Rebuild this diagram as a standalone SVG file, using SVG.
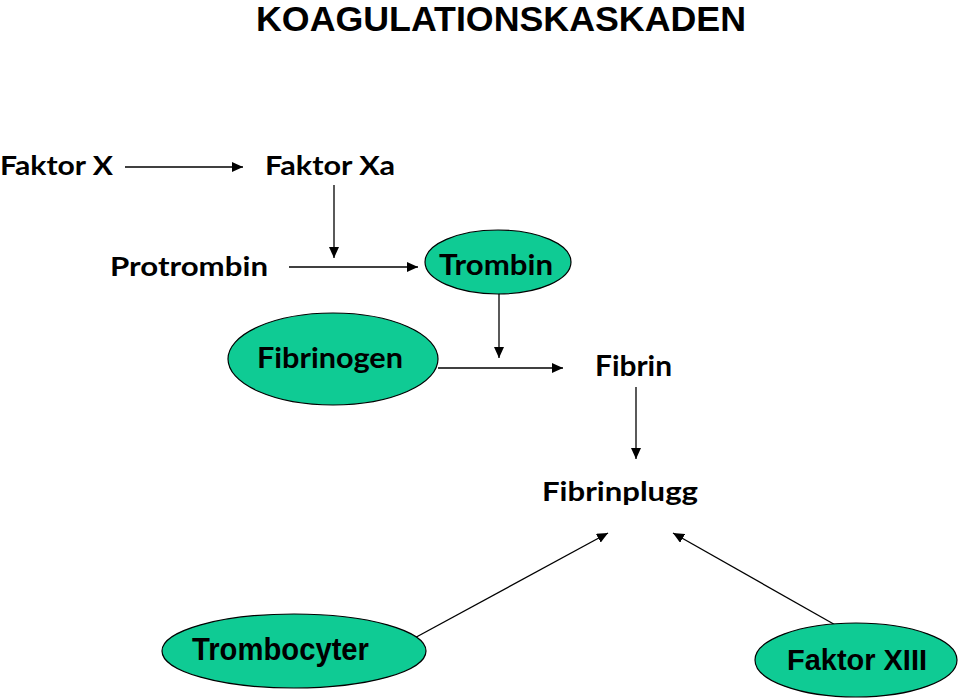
<svg xmlns="http://www.w3.org/2000/svg" width="960" height="700" viewBox="0 0 960 700">
<style>
.t{font-family:Lato,"Liberation Sans",sans-serif;font-weight:bold;fill:#000}
.a{font-family:"Liberation Sans",Arial,sans-serif;font-weight:bold;fill:#000}
.e{fill:#0FCB94;stroke:#000;stroke-width:1.2}
.c{stroke:#000;stroke-width:1.3;fill:none;marker-end:url(#ah)}
</style>
<defs>
<marker id="ah" markerUnits="userSpaceOnUse" markerWidth="12" markerHeight="10" refX="11" refY="5" orient="auto">
<path d="M0,0 L11,5 L0,10 Z" fill="#000"/>
</marker>
</defs>
<rect width="960" height="700" fill="#fff"/>
<text class="a" x="256" y="31" font-size="35" textLength="490" lengthAdjust="spacingAndGlyphs">KOAGULATIONSKASKADEN</text>
<g id="connectors">
<line class="c" x1="125" y1="167" x2="243" y2="167"/>
<line class="c" x1="334" y1="185" x2="334" y2="258"/>
<line class="c" x1="289" y1="267" x2="418" y2="267"/>
<line class="c" x1="499" y1="287" x2="499" y2="358"/>
<line class="c" x1="438" y1="368" x2="563" y2="368"/>
<line class="c" x1="636" y1="387" x2="636" y2="459"/>
<line class="c" x1="409" y1="641" x2="608" y2="533"/>
<line class="c" x1="846" y1="631" x2="673" y2="533"/>
</g>
<g id="faktorX"><text class="t" x="0" y="175" font-size="26" textLength="113" lengthAdjust="spacingAndGlyphs">Faktor X</text></g>
<g id="faktorXa"><text class="t" x="265" y="175" font-size="26" textLength="130" lengthAdjust="spacingAndGlyphs">Faktor Xa</text></g>
<g id="protrombin"><text class="t" x="110" y="276" font-size="26" textLength="158" lengthAdjust="spacingAndGlyphs">Protrombin</text></g>
<g id="trombin"><ellipse class="e" cx="498" cy="262" rx="73" ry="32"/><text class="t" x="439" y="275" font-size="28" textLength="114" lengthAdjust="spacingAndGlyphs">Trombin</text></g>
<g id="fibrinogen"><ellipse class="e" cx="333" cy="359" rx="105" ry="46"/><text class="t" x="257" y="368" font-size="28" textLength="146" lengthAdjust="spacingAndGlyphs">Fibrinogen</text></g>
<g id="fibrin"><text class="t" x="595" y="376" font-size="28" textLength="77" lengthAdjust="spacingAndGlyphs">Fibrin</text></g>
<g id="fibrinplugg"><text class="t" x="542" y="501" font-size="27" textLength="156" lengthAdjust="spacingAndGlyphs">Fibrinplugg</text></g>
<g id="trombocyter"><ellipse class="e" cx="294" cy="651" rx="132" ry="37"/><text class="a" x="192" y="660" font-size="31" textLength="177" lengthAdjust="spacingAndGlyphs">Trombocyter</text></g>
<g id="faktorXIII"><ellipse class="e" cx="856" cy="660" rx="101" ry="37"/><text class="a" x="787" y="670" font-size="30" textLength="140" lengthAdjust="spacingAndGlyphs">Faktor XIII</text></g>
</svg>
